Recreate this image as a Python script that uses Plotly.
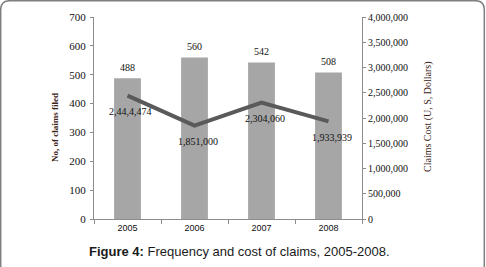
import plotly.graph_objects as go

years = ["2005", "2006", "2007", "2008"]
claims = [488, 560, 542, 508]
cost = [2444474, 1851000, 2304060, 1933939]
cost_labels = ["2,44,4,474", "1,851,000", "2,304,060", "1,933,939"]
left_ticks = [0, 100, 200, 300, 400, 500, 600, 700]
right_ticks = [0, 500000, 1000000, 1500000, 2000000, 2500000, 3000000, 3500000, 4000000]

W, H = 486, 267
L, R, T, B = 94, 124, 17, 48
pw, ph = W - L - R, H - T - B

def px(x):
    return (x - L) / pw

def py(y):
    return (H - B - y) / ph

serif = "Liberation Serif, Times New Roman, serif"
sans = "Liberation Sans, Arial, sans-serif"

fig = go.Figure()
fig.add_trace(go.Bar(
    x=years, y=claims, width=0.4, marker=dict(color="#a6a6a6", line=dict(width=0)),
    yaxis="y", showlegend=False,
))
fig.add_trace(go.Scatter(
    x=years, y=cost, mode="lines", line=dict(color="#5a5a5a", width=4),
    yaxis="y2", showlegend=False,
))
for i, v in enumerate(claims):
    fig.add_annotation(x=i, y=v, xref="x", yref="y", text=str(v), showarrow=False,
                       xanchor="center", yanchor="middle",
                       yshift=11, font=dict(family=serif, size=10, color="#111"))
for i, (v, lab) in enumerate(zip(cost, cost_labels)):
    fig.add_annotation(x=i, y=v, xref="x", yref="y2", text=lab, showarrow=False,
                       xanchor="center", yanchor="middle",
                       yshift=-16, xshift=3, font=dict(family=serif, size=10, color="#111"))

# rounded frame
r = 9
x0, x1, y0, y1 = 0.7, 484.3, 0.7, 268
path = (f"M {px(x0)} {py(y1)} L {px(x0)} {py(y0 + r)} "
        f"Q {px(x0)} {py(y0)} {px(x0 + r)} {py(y0)} "
        f"L {px(x1 - r)} {py(y0)} Q {px(x1)} {py(y0)} {px(x1)} {py(y0 + r)} "
        f"L {px(x1)} {py(y1)}")
fig.add_shape(type="path", path=path, xref="paper", yref="paper",
              line=dict(color="#7f7f7f", width=1.5))

fig.add_annotation(x=px(55), y=py(128), xref="paper", yref="paper", text="<b>No, of claims filed</b>",
                   xanchor="center", yanchor="middle",
                   textangle=-90, showarrow=False, font=dict(family=serif, size=9, color="#3b2216"))
fig.add_annotation(x=px(428), y=py(117), xref="paper", yref="paper", text="Claims Cost (U, S, Dollars)",
                   xanchor="center", yanchor="middle",
                   textangle=-90, showarrow=False, font=dict(family=serif, size=10, color="#3b2216"))
fig.add_annotation(x=px(87), y=py(252), xref="paper", yref="paper", xanchor="left", yanchor="middle",
                   text="<b>Figure 4:</b> Frequency and cost of claims, 2005-2008.",
                   showarrow=False, font=dict(family=sans, size=13, color="#1a1a1a"))

fig.update_layout(
    width=W, height=H, margin=dict(l=L, r=R, t=T, b=B),
    paper_bgcolor="white", plot_bgcolor="white",
    xaxis=dict(type="category", range=[-0.5, 3.5], showline=True, linecolor="#8c8c8c", linewidth=1,
               ticks="outside", tickson="boundaries", ticklen=4, tickcolor="#8c8c8c",
               tickfont=dict(family=sans, size=9, color="#111"), showgrid=False),
    yaxis=dict(range=[0, 700], tickvals=left_ticks, showline=True, linecolor="#8c8c8c",
               ticks="outside", ticklen=3, tickcolor="#8c8c8c", showgrid=False, zeroline=False,
               ticklabelstandoff=2,
               tickfont=dict(family=serif, size=11, color="#111")),
    yaxis2=dict(range=[0, 4000000], tickvals=right_ticks, overlaying="y", side="right",
                showline=True, linecolor="#8c8c8c", ticks="outside", ticklen=3, tickcolor="#8c8c8c",
                tickformat=",d", showgrid=False, zeroline=False,
                tickfont=dict(family=serif, size=10, color="#111")),
)
fig.write_html("out.html", config={"displayModeBar": False},
               post_script="document.body.style.margin='0';")
